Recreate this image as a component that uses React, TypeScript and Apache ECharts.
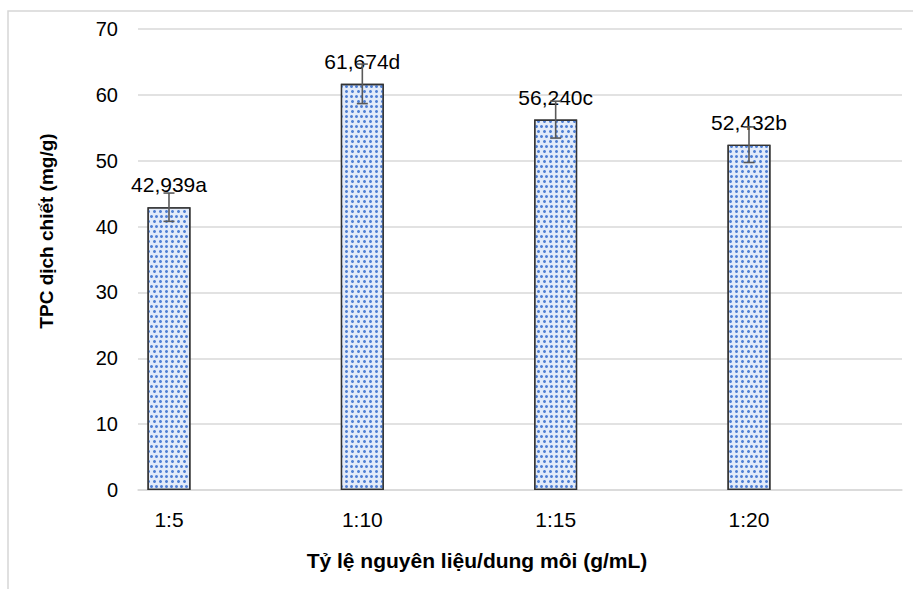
import React, { useEffect, useRef } from "react";
import * as echarts from "echarts";

// Extraction ratio groups and measured total phenolic content
const categories = ["1:5", "1:10", "1:15", "1:20"];
const tpcValues = [42.939, 61.674, 56.24, 52.432];
const tpcErrors = [2.15, 3.0, 2.8, 2.7];
const significance = ["a", "d", "c", "b"];
const yTicks = { min: 0, max: 70, step: 10 };

const FONT = "'Liberation Sans', Arial, sans-serif";

export default function App() {
  const ref = useRef<HTMLDivElement>(null);

  useEffect(() => {
    if (!ref.current) return;
    const chart = echarts.init(ref.current, undefined, { renderer: "svg" });

    const positions = categories.map((_, i) => i + 1);
    const barData = positions.map((x, i) => [x, tpcValues[i]]);
    const errData = positions.map((x, i) => [x, tpcValues[i], tpcErrors[i]]);

    chart.setOption({
      animation: false,
      backgroundColor: "#ffffff",
      textStyle: { fontFamily: FONT },
      grid: { left: 138, right: 11, top: 29, bottom: 99 },
      xAxis: {
        type: "value",
        min: 0.8397,
        max: 4.7914,
        splitLine: { show: false },
        axisLine: { show: true, lineStyle: { color: "#d9d9d9", width: 1.5 } },
        axisTick: { show: false },
        axisLabel: {
          customValues: positions,
          formatter: (v: number) => categories[Math.round(v) - 1] ?? "",
          fontSize: 21,
          color: "#000",
          margin: 19,
          fontFamily: FONT,
        },
      },
      yAxis: {
        type: "value",
        min: yTicks.min,
        max: yTicks.max,
        interval: yTicks.step,
        axisLine: { show: false },
        axisTick: { show: false },
        splitLine: { lineStyle: { color: "#d9d9d9", width: 1.5 } },
        axisLabel: { fontSize: 20, color: "#000", margin: 20, fontFamily: FONT },
      },
      series: [
        {
          type: "bar",
          data: barData,
          barWidth: 43,
          itemStyle: {
            color: "#e3ebf9",
            borderColor: "#333333",
            borderWidth: 1.3,
            decal: {
              symbol: "circle",
              symbolSize: 1,
              color: "#4f7fd4",
              dashArrayX: [[2.2, 2], [0, 2.1, 2.2, 0]],
              dashArrayY: [2.2, 2],
            },
          },
          label: {
            show: true,
            position: "top",
            distance: 12,
            fontSize: 21,
            color: "#000",
            fontFamily: FONT,
            formatter: (p: any) =>
              tpcValues[p.dataIndex].toFixed(3).replace(".", ",") +
              significance[p.dataIndex],
          },
          z: 2,
        },
        {
          type: "custom",
          data: errData,
          z: 3,
          renderItem: (_params: any, api: any) => {
            const x = api.value(0);
            const v = api.value(1);
            const e = api.value(2);
            const top = api.coord([x, v + e]);
            const bottom = api.coord([x, v - e]);
            const half = 5.5;
            const style = { stroke: "#595959", lineWidth: 1.6 };
            return {
              type: "group",
              children: [
                { type: "line", shape: { x1: top[0], y1: top[1], x2: bottom[0], y2: bottom[1] }, style },
                { type: "line", shape: { x1: top[0] - half, y1: top[1], x2: top[0] + half, y2: top[1] }, style },
                { type: "line", shape: { x1: bottom[0] - half, y1: bottom[1], x2: bottom[0] + half, y2: bottom[1] }, style },
              ],
            };
          },
        },
      ],
      graphic: [
        {
          type: "rect",
          shape: { x: 8, y: 11, width: 1000, height: 700 },
          style: { fill: "none", stroke: "#d6d6d6", lineWidth: 1.5 },
          silent: true,
        },
        {
          type: "text",
          x: 46,
          y: 231,
          rotation: Math.PI / 2,
          style: {
            text: "TPC dịch chiết (mg/g)",
            font: `bold 19px ${FONT}`,
            fill: "#000",
            align: "center",
            verticalAlign: "middle",
          },
        },
        {
          type: "text",
          x: 477,
          y: 560,
          style: {
            text: "Tỷ lệ nguyên liệu/dung môi (g/mL)",
            font: `bold 21px ${FONT}`,
            fill: "#000",
            align: "center",
            verticalAlign: "middle",
          },
        },
      ],
    });

    return () => chart.dispose();
  }, []);

  return (
    <div
      ref={ref}
      style={{ position: "fixed", left: 0, top: 0, width: 913, height: 589 }}
    />
  );
}
